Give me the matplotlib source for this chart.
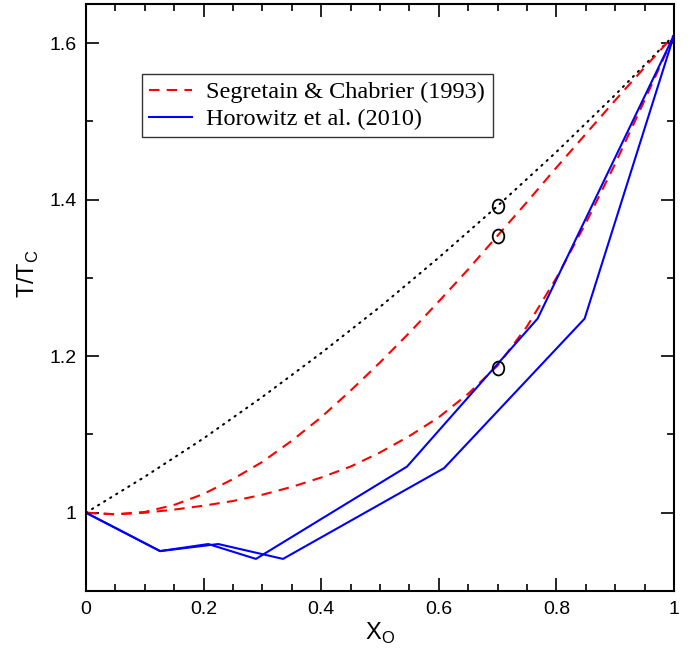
import matplotlib
matplotlib.use("Agg")
import matplotlib.pyplot as plt
from matplotlib.path import Path
from matplotlib.ticker import MultipleLocator, FuncFormatter

# ---- data ----
dot_x = [0.0, 0.1, 0.2, 0.3, 0.4, 0.5, 0.6, 0.7, 0.8, 0.9, 1.0]
dot_y = [1.0, 1.046, 1.095, 1.148, 1.204, 1.263, 1.326, 1.392, 1.461, 1.534, 1.61]

sc_up_x = [0.0, 0.05, 0.1, 0.15, 0.2, 0.25, 0.3, 0.35, 0.4, 0.45, 0.5,
           0.55, 0.6, 0.65, 0.7, 0.75, 0.8, 0.85, 0.9, 0.95, 1.0]
sc_up_y = [1.0, 0.998, 1.001, 1.010, 1.024, 1.043, 1.065, 1.092, 1.122, 1.156, 1.192,
           1.230, 1.270, 1.311, 1.354, 1.397, 1.441, 1.484, 1.527, 1.569, 1.61]

sc_lo_x = [0.0, 0.05, 0.1, 0.15, 0.2, 0.25, 0.3, 0.35, 0.4, 0.45, 0.5,
           0.55, 0.6, 0.65, 0.7, 0.75, 0.8, 0.85, 0.9, 0.95, 1.0]
sc_lo_y = [1.0, 0.998, 1.000, 1.004, 1.009, 1.015, 1.023, 1.033, 1.045, 1.059, 1.077,
           1.098, 1.122, 1.152, 1.188, 1.238, 1.300, 1.370, 1.446, 1.527, 1.61]

hw_a_x = [0.0, 0.126, 0.208, 0.289, 0.546, 0.768, 1.0]
hw_a_y = [1.0, 0.951, 0.960, 0.941, 1.059, 1.248, 1.61]
hw_b_x = [0.0, 0.126, 0.225, 0.335, 0.609, 0.848, 1.0]
hw_b_y = [1.0, 0.951, 0.960, 0.941, 1.057, 1.248, 1.61]

circ_x = [0.7, 0.7, 0.7]
circ_y = [1.392, 1.354, 1.185]

labels = ["Segretain & Chabrier (1993)", "Horowitz et al. (2010)"]

# ---- figure ----
fig = plt.figure(figsize=(6.96, 6.5), dpi=100)
ax = fig.add_axes([86/696, 1-591/650, (674-86)/696, (591-4)/650])

ax.plot(dot_x, dot_y, color="black", lw=1.5, linestyle=(0, (0.6, 2.8)), dash_capstyle="round")
ax.plot(sc_up_x, sc_up_y, color="red", lw=1.5, linestyle=(0, (5, 3.5)), label=labels[0])
ax.plot(sc_lo_x, sc_lo_y, color="red", lw=1.5, linestyle=(0, (5, 3.5)))
ax.plot(hw_a_x, hw_a_y, color="blue", lw=1.5, label=labels[1])
ax.plot(hw_b_x, hw_b_y, color="blue", lw=1.5)

uc = Path.unit_circle()
ell = Path(uc.vertices * [1.0, 1.2], uc.codes)
ax.plot(circ_x, circ_y, linestyle="none", marker=ell, markersize=10,
        markerfacecolor="none", markeredgecolor="black", markeredgewidth=1.3)

ax.set_xlim(0, 1)
ax.set_ylim(0.9, 1.65)

ax.xaxis.set_major_locator(MultipleLocator(0.2))
ax.xaxis.set_minor_locator(MultipleLocator(0.05))
ax.yaxis.set_major_locator(MultipleLocator(0.2))
ax.yaxis.set_minor_locator(MultipleLocator(0.1))
fmt = FuncFormatter(lambda v, p: "%g" % round(v, 3))
ax.xaxis.set_major_formatter(fmt)
ax.yaxis.set_major_formatter(fmt)

ax.tick_params(which="both", direction="in", top=True, right=True, width=1.2)
ax.tick_params(which="major", length=9.5, labelsize=14, pad=7)
ax.tick_params(which="minor", length=5)
for lab in ax.get_xticklabels() + ax.get_yticklabels():
    lab.set_fontfamily("Liberation Sans")
for s in ax.spines.values():
    s.set_linewidth(1.5)

ax.set_xlabel(r"X$_\mathregular{O}$", fontsize=17, family="Liberation Sans")
ax.set_ylabel(r"T/T$_\mathregular{C}$", fontsize=17, family="Liberation Sans")
ax.xaxis.set_label_coords(0.5, -0.05)
ax.yaxis.set_label_coords(-0.076, 0.54)

leg = ax.legend(loc="upper left", bbox_to_anchor=((142-86)/588, 1-(74-4)/587),
                prop={"family": "Liberation Serif", "size": 17.5}, frameon=True,
                fancybox=False, edgecolor="black", handlelength=1.75,
                borderaxespad=0, borderpad=0.3, labelspacing=0.2, handletextpad=0.6)
leg.get_frame().set_linewidth(1.0)

fig.savefig("out.png", dpi=100)
